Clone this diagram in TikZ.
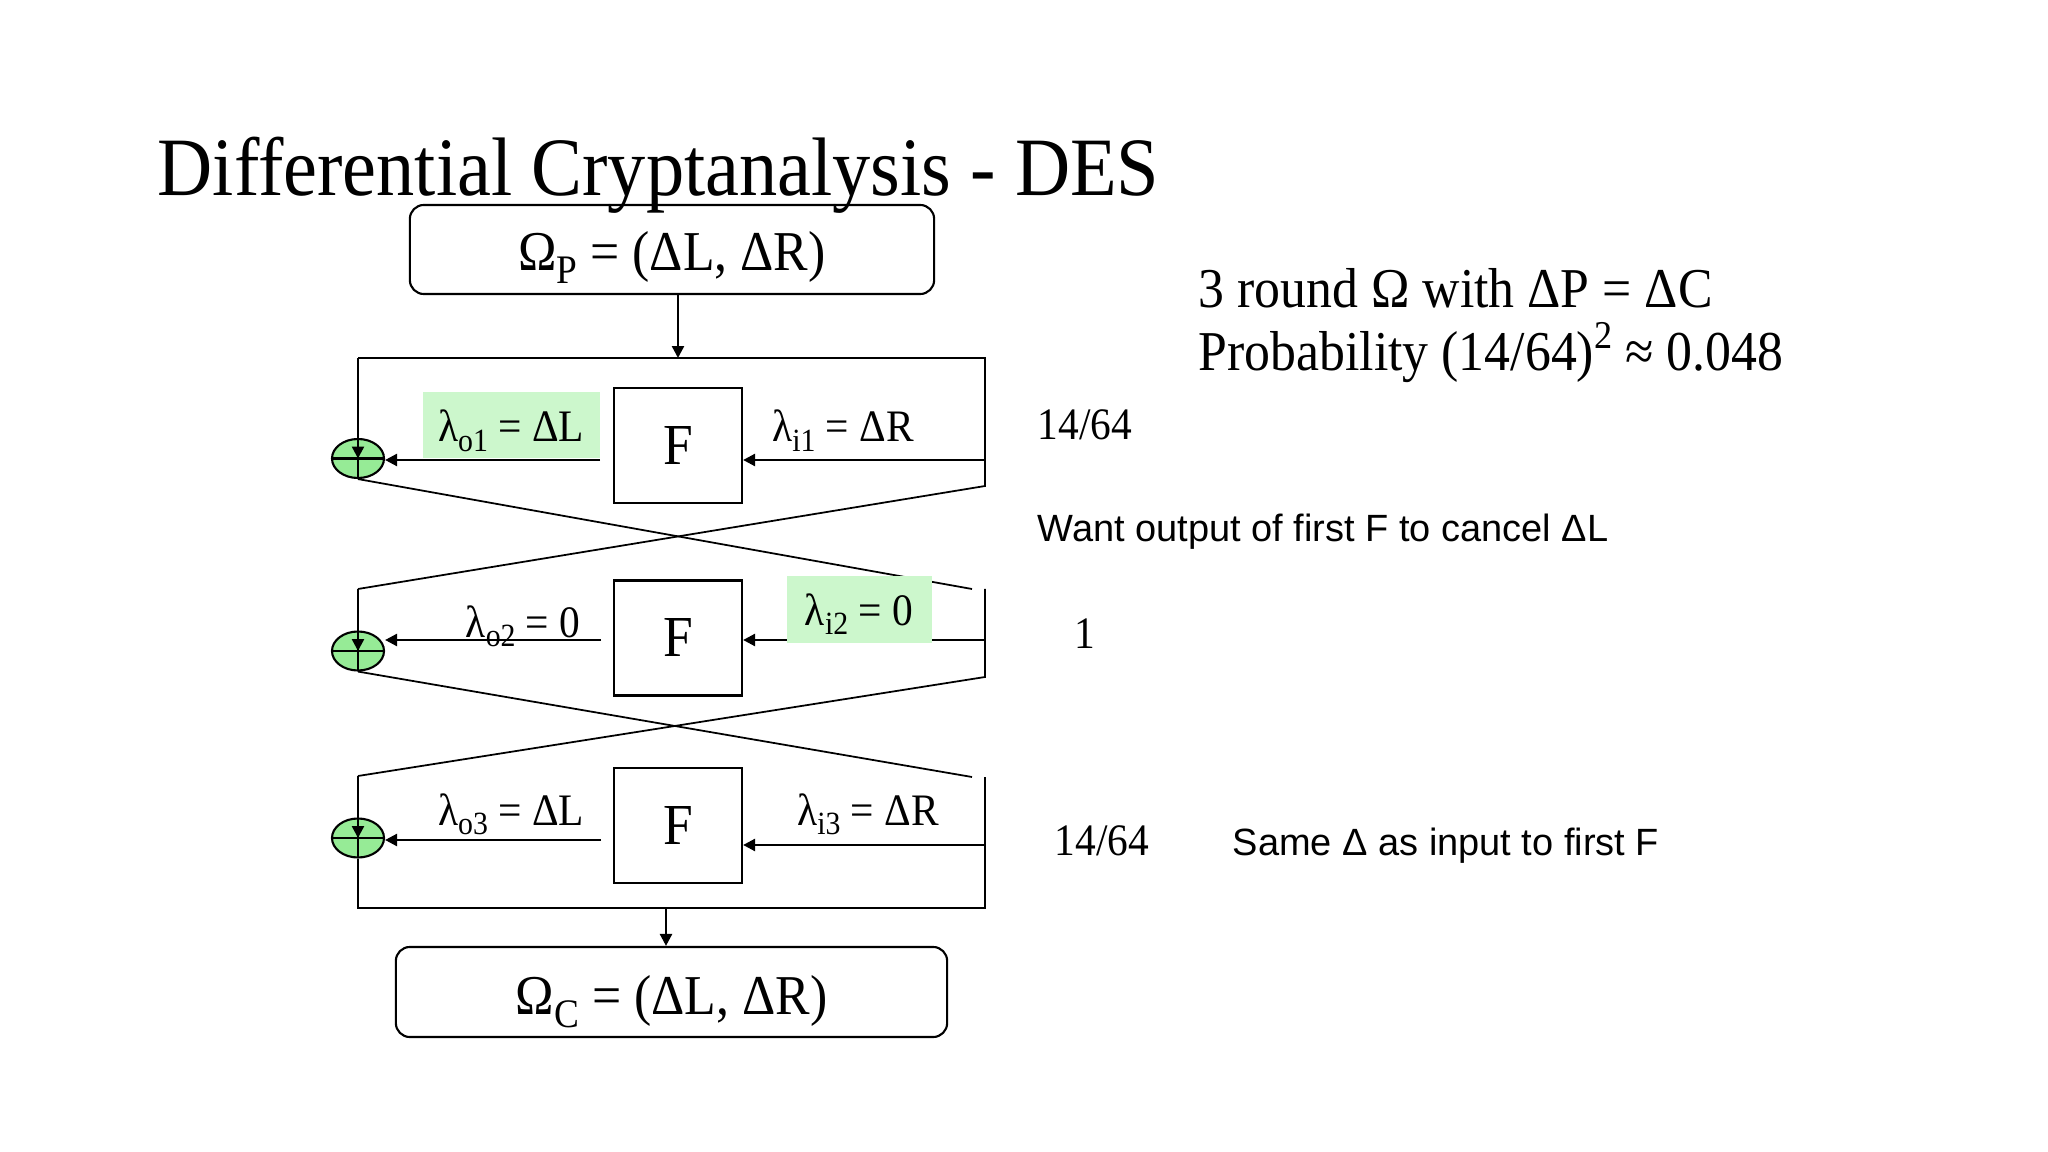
\documentclass[tikz,border=0pt]{standalone}
\usepackage{fontspec}
\setmainfont{Liberation Serif}[FakeStretch=0.92]
\setsansfont{Liberation Sans}
\usepackage{graphicx}
\usetikzlibrary{arrows.meta,shapes.geometric}
\definecolor{hlgreen}{RGB}{204,247,204}
\definecolor{xorgreen}{RGB}{150,235,150}
\newcommand{\dsub}[1]{\raisebox{-0.22em}{\scalebox{0.72}{#1}}}

\begin{document}
\begin{tikzpicture}[x=0.01cm,y=-0.01cm,>={Triangle[length=3.4pt,width=3.4pt]},
  wire/.style={line width=0.5pt},
  flow/.style={->,line width=0.7pt},
  io/.style={draw,line width=0.6pt,rounded corners=0.14cm,minimum width=5.24cm,minimum height=0.89cm,inner sep=0pt,font=\fontsize{16}{19}\selectfont},
  fnbox/.style={draw,line width=0.6pt,minimum width=1.28cm,minimum height=1.15cm,font=\fontsize{16.5}{19}\selectfont},
  xor/.style={ellipse,draw,line width=0.6pt,fill=xorgreen,minimum width=0.52cm,minimum height=0.39cm,inner sep=0pt,
    path picture={\draw[line width=0.6pt] (path picture bounding box.north) -- (path picture bounding box.south)
      (path picture bounding box.west) -- (path picture bounding box.east);}},
  hl/.style={fill=hlgreen,inner sep=0pt},
  lbl/.style={anchor=base,inner sep=0pt,font=\fontsize{12.8}{15}\selectfont},
  note/.style={anchor=base west,inner sep=0pt,font=\fontsize{12.8}{15}\selectfont},
  remark/.style={anchor=base west,inner sep=0pt,font=\sffamily\fontsize{10.8}{13}\selectfont}]

\fill[white] (0,0) rectangle (2048,1152);
\useasboundingbox (0,0) rectangle (2048,1152);

\node[anchor=base west,inner sep=0pt,font=\fontsize{23.6}{28}\selectfont] (title) at (157,196) {Differential Cryptanalysis - DES};

\node[io,text height=14pt,text depth=1.8pt] (P) at (672,249.5) {Ω\dsub{P} = (ΔL, ΔR)};
\node[io,minimum width=5.51cm,minimum height=0.9cm,text height=15pt,text depth=2pt] (C) at (671.5,992) {Ω\dsub{C} = (ΔL, ΔR)};

\node[fnbox] (F1) at (678,445.5) {F};
\node[fnbox] (F2) at (678,638) {F};
\node[fnbox] (F3) at (678,825.5) {F};

\node[xor] (x1) at (358,458.5) {};
\node[xor] (x2) at (358,651) {};
\node[xor] (x3) at (358,838) {};

\coordinate (top) at (678,358);
\coordinate (bot) at (666,908);
\coordinate (fl1) at (358,358);
\coordinate (fr1) at (985,358);
\coordinate (rb1) at (985,486);
\coordinate (lt2) at (358,589);
\coordinate (rt2) at (985,589);
\coordinate (d12) at (972,589);
\coordinate (rb2) at (985,677);
\coordinate (lt3) at (358,776);
\coordinate (rt3) at (985,777);
\coordinate (d23) at (972,777);
\coordinate (bl) at (358,908);
\coordinate (br) at (985,908);
\coordinate (ri1) at (985,460);
\coordinate (lo1) at (600,460);
\coordinate (ri2) at (985,640);
\coordinate (lo2) at (601,640);
\coordinate (ri3) at (985,845);
\coordinate (lo3) at (601,840);

\draw[flow] (top |- P.south) -- (top);
\draw[wire] (fl1) -- (fr1) -- (rb1) -- (lt2);
\draw[flow] (fl1) -- (x1.center);
\draw[wire] (x1.south) -- (d12);
\draw[flow] (lt2) -- (x2.center);
\draw[wire] (rt2) -- (rb2) -- (lt3);
\draw[wire] (x2.south) -- (d23);
\draw[flow] (lt3) -- (x3.center);
\draw[wire] (rt3) -- (br) -- (bl) -- (x3.south);
\draw[flow] (bot) -- (bot |- C.north);

\draw[flow] (ri1) -- (ri1 -| F1.east);
\draw[flow] (lo1) -- (lo1 -| x1.east);
\draw[flow] (ri2) -- (ri2 -| F2.east);
\draw[flow] (lo2) -- (lo2 -| x2.east);
\draw[flow] (ri3) -- (ri3 -| F3.east);
\draw[flow] (lo3) -- (lo3 -| x3.east);

\node[hl,minimum width=1.77cm,minimum height=0.66cm] (h1) at (511.5,425) {};
\node[hl,minimum width=1.45cm,minimum height=0.67cm] (h2) at (859.5,609.5) {};

\node[lbl] (lo1t) at (511,442) {λ\dsub{o1} = ΔL};
\node[lbl] (li1t) at (843,442) {λ\dsub{i1} = ΔR};
\node[lbl] (lo2t) at (523,637) {λ\dsub{o2} = 0};
\node[lbl] (li2t) at (859,625) {λ\dsub{i2} = 0};
\node[lbl] (lo3t) at (511,825) {λ\dsub{o3} = ΔL};
\node[lbl] (li3t) at (868,825) {λ\dsub{i3} = ΔR};

\node[note,font=\fontsize{16}{19}\selectfont] (t1) at (1198,308) {3 round Ω with ΔP = ΔC};
\node[note,font=\fontsize{16}{19}\selectfont] (t2) at (1198,371) {Probability (14/64)\textsuperscript{2}\hspace{0.2em}≈ 0.048};
\node[note] (p1) at (1037,440) {14/64};
\node[remark] (want) at (1037,542) {Want output of first F to cancel ΔL};
\node[lbl] (p2) at (1085,649) {1};
\node[note] (p3) at (1054,855) {14/64};
\node[remark] (same) at (1232,855) {Same Δ as input to first F};

\end{tikzpicture}
\end{document}
